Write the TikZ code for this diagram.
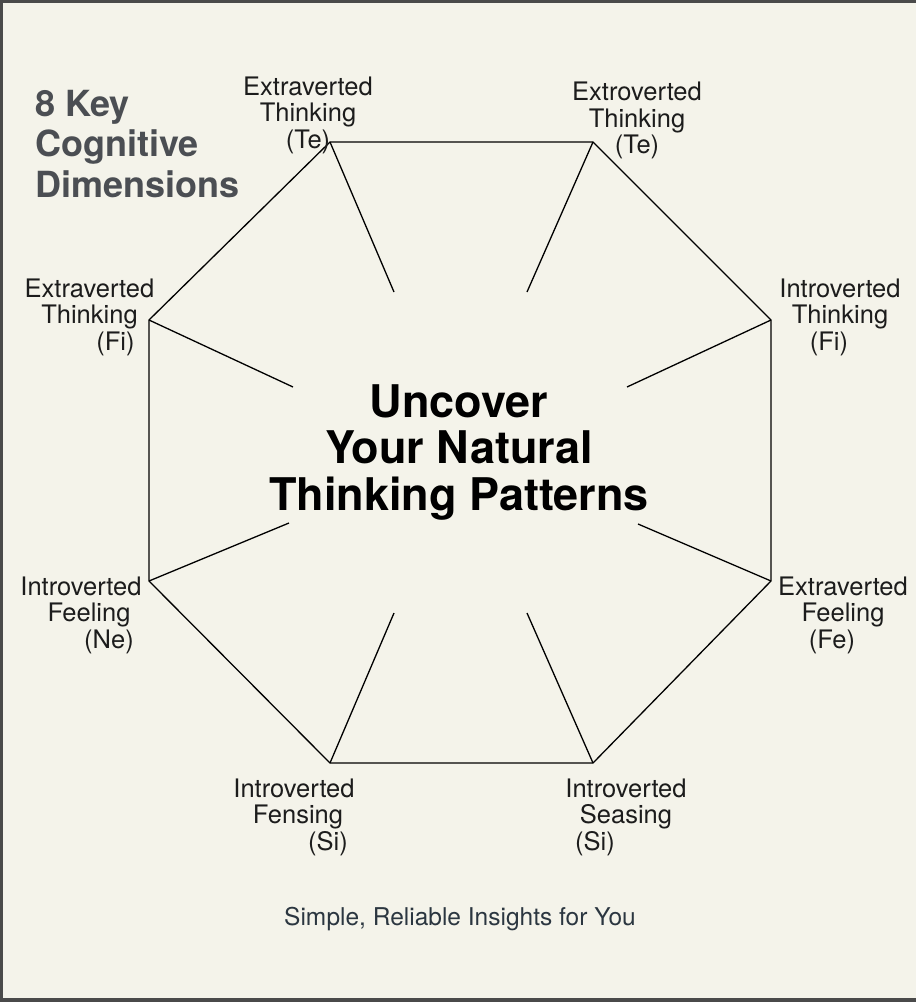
\documentclass[tikz,border=0pt]{standalone}
\usepackage{fontspec}
\setmainfont{TeX Gyre Heros}

\definecolor{paper}{HTML}{F4F3EA}
\definecolor{framegray}{HTML}{4A4A4A}
\definecolor{ink}{HTML}{1C1C1C}
\definecolor{headgray}{HTML}{4B4E53}
\definecolor{footink}{HTML}{2B3640}

\tikzset{
  edge/.style={draw=black, line width=1.3pt, line join=miter},
  spoke/.style={draw=black, line width=1.3pt},
  fnlabel/.style={align=center, inner sep=0pt, text=ink, font=\fontsize{25.5}{26.5}\selectfont},
}

\begin{document}
\begin{tikzpicture}[x=1pt,y=-1pt]
  % Paper and frame
  \fill[paper] (0,0) rectangle (916,1002);
  \useasboundingbox (0,0) rectangle (916,1002);
  \fill[framegray] (0,0) rectangle (916,2.5);
  \fill[framegray] (0,0) rectangle (3,1002);
  \fill[framegray] (0,998) rectangle (916,1002);

  % Octagon corners
  \coordinate (c1) at (330,142);
  \coordinate (c2) at (593,142);
  \coordinate (c3) at (771,320);
  \coordinate (c4) at (771,581);
  \coordinate (c5) at (593,763);
  \coordinate (c6) at (330,763);
  \coordinate (c7) at (149,581);
  \coordinate (c8) at (149,320);

  % Inner ends of the spokes
  \coordinate (s1) at (394,292);
  \coordinate (s2) at (527,292);
  \coordinate (s3) at (627,387);
  \coordinate (s4) at (638,524);
  \coordinate (s5) at (527,613);
  \coordinate (s6) at (394,613);
  \coordinate (s7) at (289,523);
  \coordinate (s8) at (293,387);

  % Octagon
  \draw[edge] (c1) -- (c2) -- (c3) -- (c4) -- (c5) -- (c6) -- (c7) -- (c8) -- cycle;

  % Spokes
  \foreach \i in {1,...,8}
    \draw[spoke] (c\i) -- (s\i);

  % Function labels
  \node[fnlabel] (l1) at (308,115) {Extraverted\\Thinking\\(Te)};
  \node[fnlabel] (l2) at (637,120.5) {Extroverted\\Thinking\\(Te)};
  \node[fnlabel] (l3) at (840,317) {Introverted\\Thinking\\(Fi)\hspace*{22pt}};
  \node[fnlabel] (l4) at (89.5,317) {Extraverted\\Thinking\\\hspace*{52pt}(Fi)};
  \node[fnlabel] (l5) at (81,615) {Introverted\\\hspace*{16pt}Feeling\\\hspace*{56pt}(Ne)};
  \node[fnlabel] (l6) at (843,615) {Extraverted\\Feeling\\(Fe)\hspace*{22pt}};
  \node[fnlabel] (l7) at (294,817) {Introverted\\\hspace*{8pt}Fensing\\\hspace*{68pt}(Si)};
  \node[fnlabel] (l8) at (626,817) {Introverted\\Seasing\\(Si)\hspace*{62pt}};

  % Headings
  \node[anchor=north west, align=left, inner sep=0pt, text=headgray,
        font=\bfseries\fontsize{36}{40.5}\selectfont] (keys) at (35,90)
        {8 Key\\Cognitive\\Dimensions};
  \node[align=center, inner sep=0pt, text=black,
        font=\bfseries\fontsize{45}{46.5}\selectfont] (title) at (459,452)
        {Uncover\\Your Natural\\Thinking Patterns};

  % Tagline
  \node[anchor=base, inner sep=0pt, text=footink, font=\fontsize{24.5}{26}\selectfont]
        (tagline) at (460,925) {Simple, Reliable Insights for You};
\end{tikzpicture}
\end{document}
